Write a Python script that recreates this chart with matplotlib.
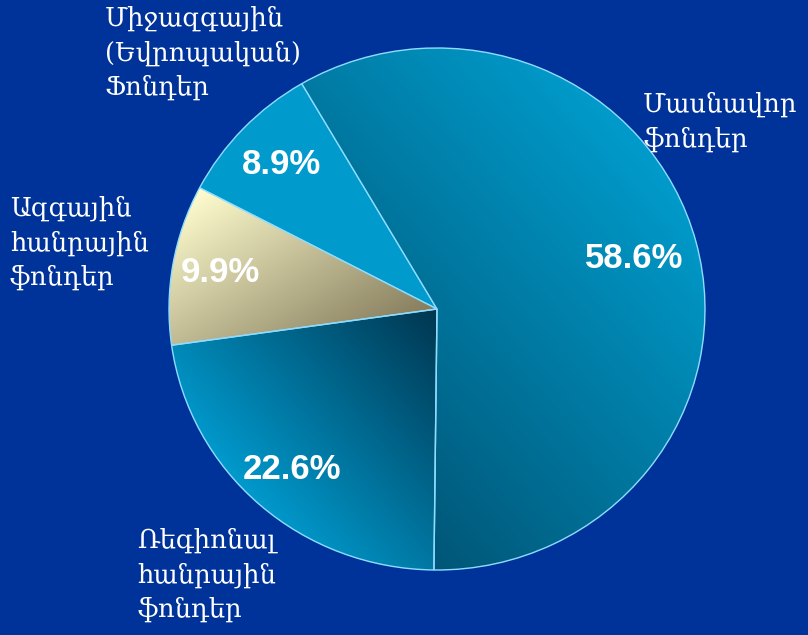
import numpy as np
import matplotlib.pyplot as plt
from matplotlib.colors import LinearSegmentedColormap

shares = [58.6, 22.6, 9.9, 8.9]
pct_labels = ['58.6%', '22.6%', '9.9%', '8.9%']
names = ['Մասնավոր\nֆոնդեր',
         'Ռեգիոնալ\nհանրային\nֆոնդեր',
         'Ազգային\nհանրային\nֆոնդեր',
         'Միջազգային\n(Եվրոպական)\nՖոնդեր']

bg = '#003399'
W, H = 808, 635
fig = plt.figure(figsize=(W / 100, H / 100), dpi=100, facecolor=bg)

# pie axes, slightly wider than tall like the original
cx, cy, rx, ry = 437, 309, 268, 261
ax = fig.add_axes([(cx - rx) / W, 1 - (cy + ry) / H, 2 * rx / W, 2 * ry / H])

wedges, _ = ax.pie(shares, startangle=120.3, counterclock=False, radius=1,
                   wedgeprops=dict(edgecolor='#8fdcff', linewidth=1))
ax.set_aspect('auto')
ax.axis('off')

# gradient fills: (light colour, dark colour, direction light->dark)
grads = [('#009bcb', '#005677', (-0.75, -0.65)),
         ('#0099cc', '#003650', (0.75, 0.65)),
         ('#fffdcf', '#857c5c', (0.55, -0.85)),
         None]

gx, gy = np.meshgrid(np.linspace(-1, 1, 400), np.linspace(1, -1, 400))
for w, g in zip(wedges, grads):
    if g is None:
        w.set_facecolor('#009bcc')
        continue
    c0, c1, (dx, dy) = g
    t = gx * dx + gy * dy
    pts = np.array([[0, 0]] + [[np.cos(a), np.sin(a)] for a in
                    np.radians(np.linspace(w.theta1, w.theta2, 60))])
    proj = pts[:, 0] * dx + pts[:, 1] * dy
    t = np.clip((t - proj.min()) / (proj.max() - proj.min()), 0, 1)
    cmap = LinearSegmentedColormap.from_list('g', [c0, c1])
    im = ax.imshow(t, cmap=cmap, extent=(-1, 1, -1, 1), aspect='auto',
                   zorder=1, vmin=0, vmax=1)
    im.set_clip_path(w)
    w.set_facecolor('none')
    w.set_zorder(2)
ax.set_xlim(-1, 1)
ax.set_ylim(-1, 1)

dist = [0.76, 0.82, 0.82, 0.80]
for w, lab, d in zip(wedges, pct_labels, dist):
    a = np.radians((w.theta1 + w.theta2) / 2)
    ax.text(d * np.cos(a), d * np.sin(a), lab, ha='center', va='center',
            color='white', fontsize=25, fontweight='bold',
            family='Liberation Sans', zorder=3)

name_pos = [(643, 92), (137, 528), (10, 196), (105, 6)]
for (x, y), txt in zip(name_pos, names):
    fig.text(x / W, 1 - y / H, txt, ha='left', va='top', color='white',
             fontsize=18.5, family='DejaVu Serif', linespacing=1.45)

fig.savefig('out.png', dpi=100, facecolor=bg)
